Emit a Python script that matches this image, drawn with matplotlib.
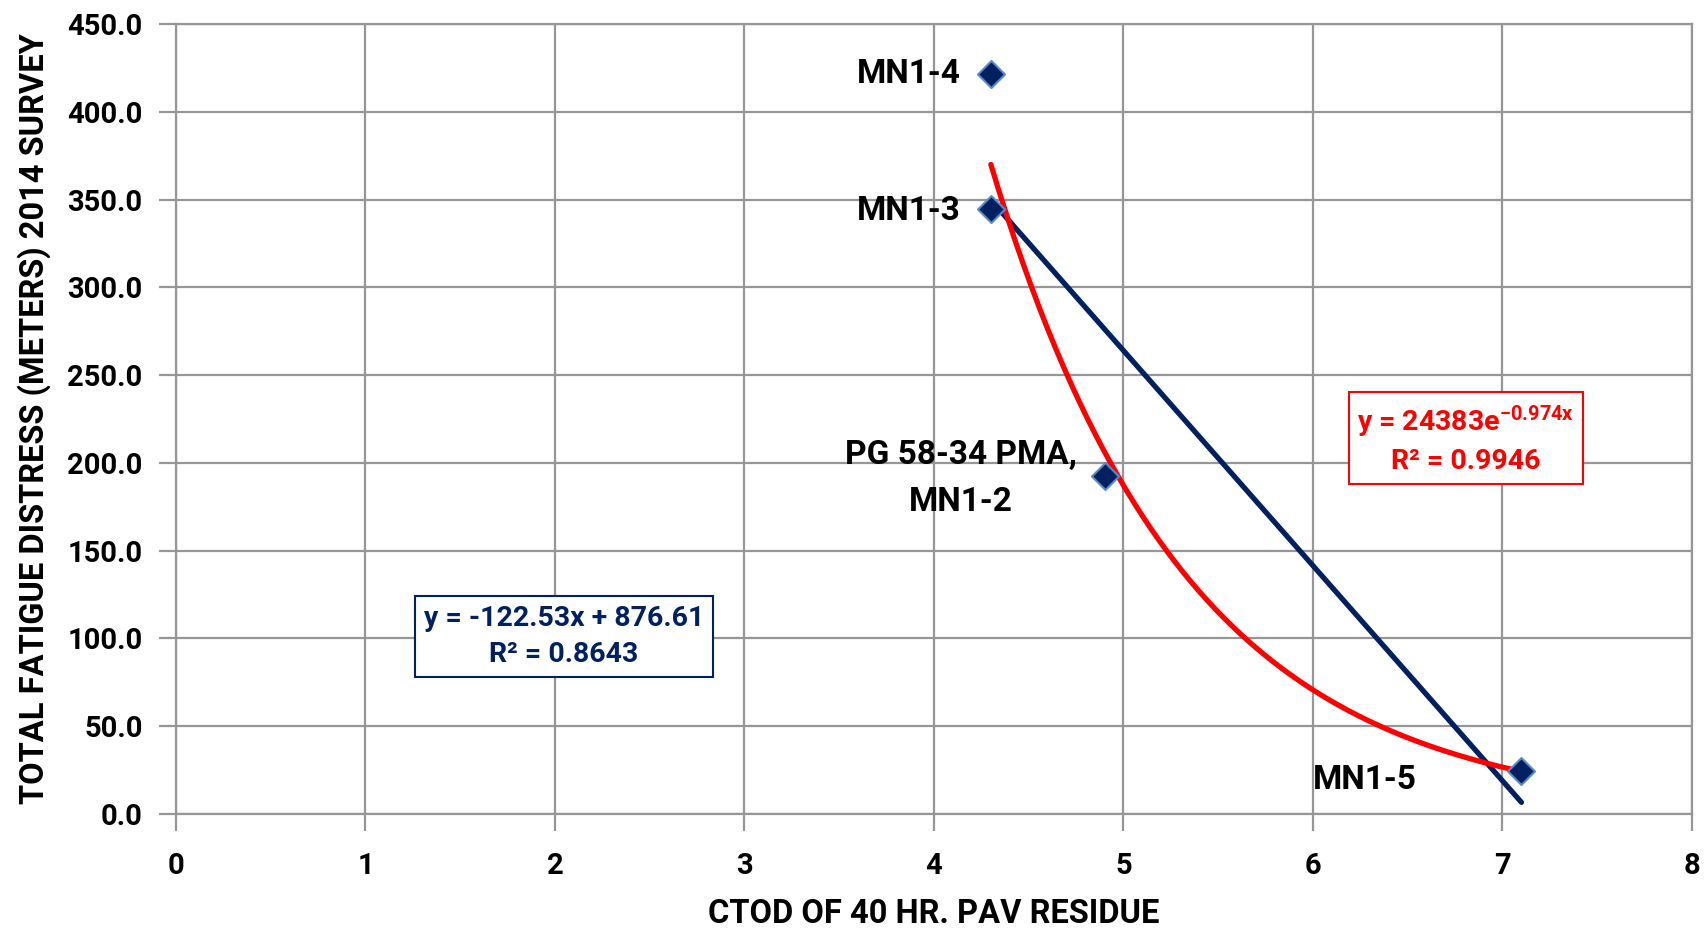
import numpy as np
import matplotlib
matplotlib.use("Agg")
import matplotlib.pyplot as plt

fam = 'Roboto'
plt.rcParams['font.family'] = [fam, 'DejaVu Sans']
plt.rcParams['font.weight'] = 'bold'
plt.rcParams['mathtext.fontset'] = 'custom'
plt.rcParams['mathtext.rm'] = f'{fam}:bold'
plt.rcParams['mathtext.bf'] = f'{fam}:bold'
plt.rcParams['mathtext.default'] = 'bf'

# ---- data ----
labels = ["MN1-4", "MN1-3", "PG 58-34 PMA,\nMN1-2", "MN1-5"]
ctod = [4.3, 4.3, 4.9, 7.1]
distress = [421.8, 344.4, 192.5, 24.5]

lin_slope, lin_intercept, lin_r2 = -122.53, 876.61, 0.8643
exp_a, exp_b, exp_r2 = 24383, -0.974, 0.9946

x_ticks = [0, 1, 2, 3, 4, 5, 6, 7, 8]
y_ticks = [0, 50, 100, 150, 200, 250, 300, 350, 400, 450]

navy = '#002060'
red = '#FF0000'
grid_c = '#969696'

fig = plt.figure(figsize=(17.06, 9.33), dpi=100)
ax = fig.add_axes([176/1706, (933-814)/933, (1692-176)/1706, 790/933])

ax.set_xlim(0, 8)
ax.set_ylim(0, 450)
ax.set_xticks(x_ticks)
ax.set_yticks(y_ticks)
ax.set_yticklabels([f"{v:.1f}" for v in y_ticks])
ax.grid(True, color=grid_c, linewidth=1.6)
ax.set_axisbelow(True)
for s in ax.spines.values():
    s.set_color(grid_c)
    s.set_linewidth(1.6)
ax.tick_params(axis='both', colors=grid_c, length=12, width=1.6, labelcolor='black', labelsize=21)
ax.tick_params(axis='x', pad=15)
ax.tick_params(axis='y', pad=12)
for t in ax.get_xticklabels() + ax.get_yticklabels():
    t.set_fontweight('bold')

# trendlines
xs = np.linspace(min(ctod), max(ctod), 200)
ax.plot(xs, lin_slope * xs + lin_intercept, color=navy, linewidth=3.8, solid_capstyle='round', zorder=3)
ax.plot(xs, exp_a * np.exp(exp_b * xs), color=red, linewidth=3.8, solid_capstyle='round', zorder=4)

# points
ax.scatter(ctod, distress, marker='D', s=190, facecolor=navy, edgecolor='#5b8ac9', linewidth=1.5, zorder=5)

# labels
offsets = [(-30, 0, 'right'), (-30, -2, 'right'), (-144, -2, 'center'), (-209, -9, 'left')]
for lab, x, y, (dx, dy, ha) in zip(labels, ctod, distress, offsets):
    ax.annotate(lab, (x, y), xytext=(dx, dy), textcoords='offset pixels',
                ha=ha, va='center', fontsize=24, fontweight='bold', color='black',
                multialignment='center', linespacing=1.6, zorder=6)

# equation boxes
ax.text(2.047, 101, f"y = {lin_slope:.2f}x + {lin_intercept:.2f}\nR² = {lin_r2:.4f}",
        ha='center', va='center', fontsize=20.5, fontweight='bold', color=navy,
        multialignment='center', linespacing=1.45,
        bbox=dict(boxstyle='square,pad=0.3', facecolor='white', edgecolor=navy, linewidth=1.5), zorder=6)
ax.text(6.805, 213.5, f"y = {exp_a}e$^{{{exp_b}x}}$\nR² = {exp_r2:.4f}",
        ha='center', va='center', fontsize=20.5, fontweight='bold', color=red,
        multialignment='center', linespacing=1.4,
        bbox=dict(boxstyle='square,pad=0.3', facecolor='white', edgecolor=red, linewidth=1.5), zorder=6)

ax.set_xlabel("CTOD OF 40 HR. PAV RESIDUE", fontsize=23.5, fontweight='bold', labelpad=13)
ax.set_ylabel("TOTAL FATIGUE DISTRESS (METERS) 2014 SURVEY", fontsize=23.5, fontweight='bold', labelpad=12)

fig.savefig("out.png", dpi=100)
